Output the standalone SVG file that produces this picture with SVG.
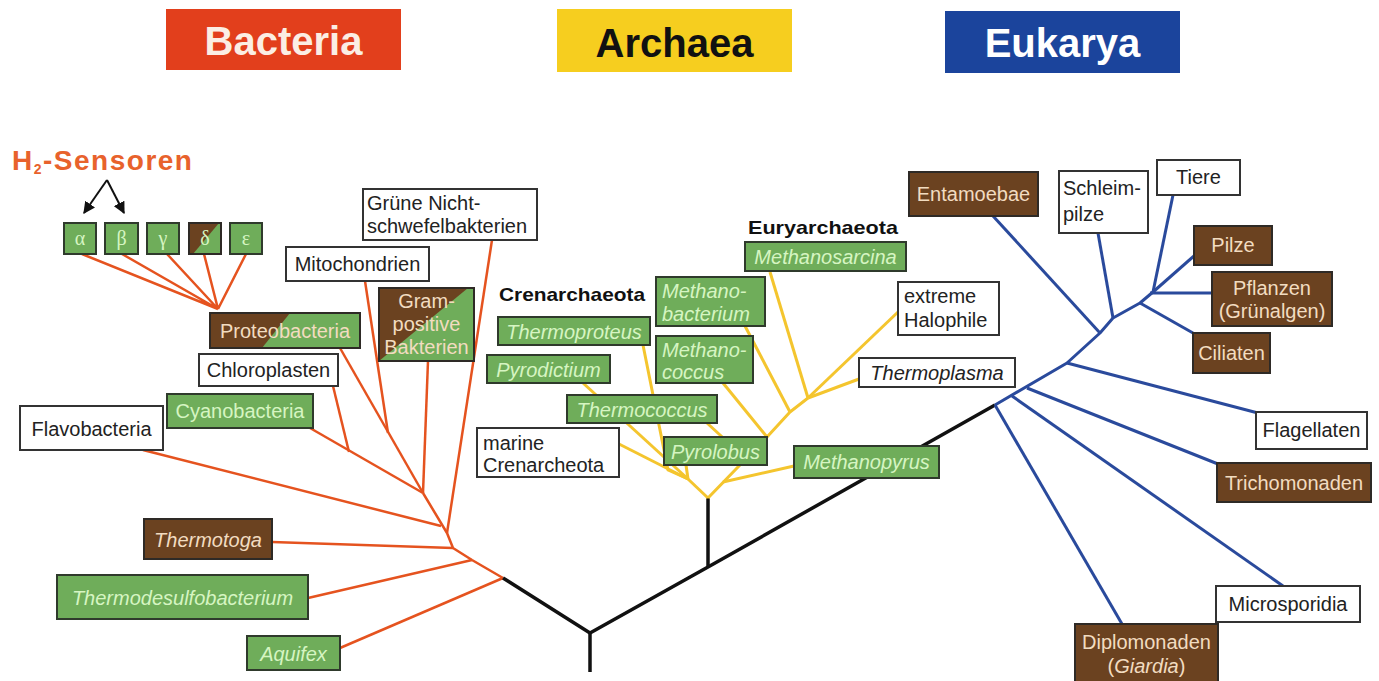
<svg xmlns="http://www.w3.org/2000/svg" width="1379" height="681" viewBox="0 0 1379 681">
<defs>
<style>
.t{font-family:"Liberation Sans",Arial,sans-serif;font-size:20px}
.c{text-anchor:middle}
.i{font-style:italic}
.gt{fill:#d6f5c2}
.bt{fill:#f2dcc0}
.wt{fill:#222}
.hd{font-family:"Liberation Sans",Arial,sans-serif;font-weight:bold;font-size:19px;fill:#111}
.gk{font-family:"Liberation Serif","Times New Roman",serif;font-size:20px;fill:#d6f5c2;text-anchor:middle}
.g{fill:#6fad5a;stroke:#2f3a2c;stroke-width:2}
.b{fill:#6b4220;stroke:#2e2a26;stroke-width:2}
.w{fill:#fff;stroke:#333;stroke-width:2}
.o{fill:none;stroke:#2e2a26;stroke-width:2}
.or{stroke:#e5531f;stroke-width:2.5;fill:none;stroke-linejoin:round}
.ye{stroke:#f4c52e;stroke-width:3;fill:none;stroke-linejoin:round}
.bl{stroke:#2a4a9c;stroke-width:3;fill:none;stroke-linejoin:round}
.bk{stroke:#111;stroke-width:3.5;fill:none;stroke-linejoin:round}
.ban{font-family:"Liberation Sans",Arial,sans-serif;font-weight:bold;font-size:40px;text-anchor:middle}
</style>
<marker id="ah" viewBox="0 0 10 10" refX="9" refY="5" markerWidth="6" markerHeight="6" orient="auto">
<path d="M0,0 L10,5 L0,10 z" fill="#111"/>
</marker>
</defs>
<rect width="1379" height="681" fill="#fff"/>

<g id="banner-bacteria"><rect x="166" y="9" width="235" height="61" fill="#e23f1c"/><text class="ban" x="283.5" y="55" fill="#fbeee4">Bacteria</text></g>
<g id="banner-archaea"><rect x="557" y="9" width="235" height="63" fill="#f6ce1f"/><text class="ban" x="674.5" y="57" fill="#111">Archaea</text></g>
<g id="banner-eukarya"><rect x="945" y="11" width="235" height="62" fill="#1b449c"/><text class="ban" x="1062.5" y="57" fill="#fff">Eukarya</text></g>

<g id="h2-sensoren">
<text x="12" y="170" font-family="Liberation Sans,Arial,sans-serif" font-weight="bold" font-size="28" fill="#e8622c" letter-spacing="1.5">H<tspan font-size="14" dy="4">2</tspan><tspan dy="-4">-Sensoren</tspan></text>
<path d="M107,180 L84,213" stroke="#111" stroke-width="2" fill="none" marker-end="url(#ah)"/>
<path d="M107,180 L124,213" stroke="#111" stroke-width="2" fill="none" marker-end="url(#ah)"/>
</g>

<g id="connectors">
<!-- bacteria -->
<path class="or" d="M82,254 L218,309 M122,254 L218,309 M167,254 L218,309 M204,254 L218,309 M246,254 L218,309"/>
<path class="or" d="M340,348 L423,493"/>
<path class="or" d="M365,281 L388,433"/>
<path class="or" d="M428,361 L423,493"/>
<path class="or" d="M333,386 L349,452"/>
<path class="or" d="M310,428 L423,493"/>
<path class="or" d="M492,240 L447,533"/>
<path class="or" d="M423,493 L447,533 L453,548 L472,560 L503,578"/>
<path class="or" d="M143,450 L441,526"/>
<path class="or" d="M272,542 L453,548"/>
<path class="or" d="M308,598 L472,560"/>
<path class="or" d="M340,648 L503,578"/>
<!-- root -->
<path class="bk" d="M503,578 L590,633 L708,567 L995,405"/>
<path class="bk" d="M590,633 L590,672"/>
<path class="bk" d="M708,567 L708,498"/>
<!-- archaea -->
<path class="ye" d="M708,498 L688,479"/>
<path class="ye" d="M688,479 L619,444"/>
<path class="ye" d="M688,479 L583,383"/>
<path class="ye" d="M688,479 L668,470 L643,345"/>
<path class="ye" d="M688,479 L686,465"/>
<path class="ye" d="M708,498 L767,437 L790,412 L808,398"/>
<path class="ye" d="M707,423 L745,458"/>
<path class="ye" d="M723,383 L767,437"/>
<path class="ye" d="M745,326 L790,412"/>
<path class="ye" d="M770,272 L808,398"/>
<path class="ye" d="M898,312 L808,398"/>
<path class="ye" d="M859,379 L808,398"/>
<path class="ye" d="M794,466 L723,482"/>
<!-- eukarya -->
<path class="bl" d="M995,405 L1067,363 L1100,333 L1113,318 L1140,303 L1153,292"/>
<path class="bl" d="M995,405 L1122,624"/>
<path class="bl" d="M1012,396 L1283,586"/>
<path class="bl" d="M1027,388 L1218,464"/>
<path class="bl" d="M1067,363 L1258,413"/>
<path class="bl" d="M993,216 L1100,333"/>
<path class="bl" d="M1098,233 L1113,318"/>
<path class="bl" d="M1193,333 L1140,303"/>
<path class="bl" d="M1173,195 L1153,292"/>
<path class="bl" d="M1195,255 L1153,292"/>
<path class="bl" d="M1212,293 L1150,293"/>
</g>

<!-- Greek boxes -->
<g id="alpha"><rect class="g" x="64" y="223" width="32" height="31"/><text class="gk" x="80" y="245">α</text></g>
<g id="beta"><rect class="g" x="105" y="223" width="33" height="31"/><text class="gk" x="121.5" y="245">β</text></g>
<g id="gamma"><rect class="g" x="147" y="223" width="32" height="31"/><text class="gk" x="163" y="245">γ</text></g>
<g id="delta"><rect x="189" y="223" width="32" height="31" fill="#6fad5a"/><polygon points="189,223 219,223 193,254 189,254" fill="#6b4220"/><rect class="o" x="189" y="223" width="32" height="31"/><text class="gk" x="205" y="245">δ</text></g>
<g id="epsilon"><rect class="g" x="230" y="223" width="32" height="31"/><text class="gk" x="246" y="245">ε</text></g>

<g id="proteobacteria"><rect x="210" y="313" width="150" height="35" fill="#6fad5a"/><polygon points="210,313 290,313 262,348 210,348" fill="#6b4220"/><rect class="o" x="210" y="313" width="150" height="35"/><text class="t c bt" x="285" y="338">Proteobacteria</text></g>
<g id="gruene"><rect class="w" x="363" y="189" width="174" height="51"/><text class="t wt" x="367" y="210">Grüne Nicht-</text><text class="t wt" x="367" y="233">schwefelbakterien</text></g>
<g id="mitochondrien"><rect class="w" x="286" y="247" width="143" height="34"/><text class="t c wt" x="357.5" y="271">Mitochondrien</text></g>
<g id="grampositive"><rect x="379" y="288" width="95" height="73" fill="#6fad5a"/><polygon points="379,288 468,288 379,361" fill="#6b4220"/><rect class="o" x="379" y="288" width="95" height="73"/><text class="t c bt" x="426.5" y="308">Gram-</text><text class="t c bt" x="426.5" y="331">positive</text><text class="t c bt" x="426.5" y="354">Bakterien</text></g>
<g id="chloroplasten"><rect class="w" x="199" y="354" width="139" height="32"/><text class="t c wt" x="268.5" y="377">Chloroplasten</text></g>
<g id="cyanobacteria"><rect class="g" x="167" y="394" width="146" height="34"/><text class="t c gt" x="240" y="418">Cyanobacteria</text></g>
<g id="flavobacteria"><rect class="w" x="20" y="406" width="143" height="44"/><text class="t c wt" x="91.5" y="436">Flavobacteria</text></g>
<g id="thermotoga"><rect class="b" x="144" y="519" width="128" height="40"/><text class="t c i bt" x="208" y="547">Thermotoga</text></g>
<g id="thermodesulfobacterium"><rect class="g" x="57" y="575" width="251" height="44"/><text class="t c i gt" x="182.5" y="605">Thermodesulfobacterium</text></g>
<g id="aquifex"><rect class="g" x="247" y="636" width="93" height="34"/><text class="t c i gt" x="293.5" y="661">Aquifex</text></g>

<!-- Archaea -->
<g id="crenarchaeota-label"><text class="hd" x="499" y="301" textLength="146" lengthAdjust="spacingAndGlyphs">Crenarchaeota</text></g>
<g id="thermoproteus"><rect class="g" x="498" y="317" width="152" height="28"/><text class="t c i gt" x="574" y="339">Thermoproteus</text></g>
<g id="pyrodictium"><rect class="g" x="487" y="355" width="123" height="28"/><text class="t c i gt" x="548.5" y="377">Pyrodictium</text></g>
<g id="thermococcus"><rect class="g" x="567" y="395" width="150" height="28"/><text class="t c i gt" x="642" y="417">Thermococcus</text></g>
<g id="marine-crenarcheota"><rect class="w" x="477" y="428" width="142" height="49"/><text class="t wt" x="483" y="450">marine</text><text class="t wt" x="483" y="472">Crenarcheota</text></g>
<g id="pyrolobus"><rect class="g" x="664" y="437" width="103" height="28"/><text class="t c i gt" x="715.5" y="459">Pyrolobus</text></g>
<g id="methanobacterium"><rect class="g" x="656" y="277" width="109" height="49"/><text class="t i gt" x="662" y="298">Methano-</text><text class="t i gt" x="662" y="321">bacterium</text></g>
<g id="methanococcus"><rect class="g" x="656" y="336" width="97" height="47"/><text class="t i gt" x="662" y="357">Methano-</text><text class="t i gt" x="662" y="379">coccus</text></g>
<g id="euryarchaeota-label"><text class="hd" x="748" y="234" textLength="150" lengthAdjust="spacingAndGlyphs">Euryarchaeota</text></g>
<g id="methanosarcina"><rect class="g" x="745" y="242" width="161" height="29"/><text class="t c i gt" x="825.5" y="264">Methanosarcina</text></g>
<g id="extreme-halophile"><rect class="w" x="898" y="282" width="101" height="53"/><text class="t wt" x="904" y="303">extreme</text><text class="t wt" x="904" y="327">Halophile</text></g>
<g id="thermoplasma"><rect class="w" x="859" y="358" width="156" height="29"/><text class="t c i wt" x="937" y="380">Thermoplasma</text></g>
<g id="methanopyrus"><rect class="g" x="794" y="446" width="145" height="32"/><text class="t c i gt" x="866.5" y="469">Methanopyrus</text></g>

<!-- Eukarya -->
<g id="entamoebae"><rect class="b" x="909" y="172" width="129" height="44"/><text class="t c bt" x="973.5" y="201">Entamoebae</text></g>
<g id="schleimpilze"><rect class="w" x="1059" y="171" width="89" height="62"/><text class="t wt" x="1063" y="195">Schleim-</text><text class="t wt" x="1063" y="221">pilze</text></g>
<g id="tiere"><rect class="w" x="1157" y="160" width="83" height="35"/><text class="t c wt" x="1198.5" y="184">Tiere</text></g>
<g id="pilze"><rect class="b" x="1194" y="226" width="78" height="39"/><text class="t c bt" x="1233" y="252">Pilze</text></g>
<g id="pflanzen"><rect class="b" x="1212" y="272" width="120" height="54"/><text class="t c bt" x="1272" y="295">Pflanzen</text><text class="t c bt" x="1272" y="318">(Grünalgen)</text></g>
<g id="ciliaten"><rect class="b" x="1193" y="333" width="77" height="40"/><text class="t c bt" x="1231.5" y="360">Ciliaten</text></g>
<g id="flagellaten"><rect class="w" x="1256" y="412" width="111" height="37"/><text class="t c wt" x="1311.5" y="437">Flagellaten</text></g>
<g id="trichomonaden"><rect class="b" x="1217" y="463" width="154" height="39"/><text class="t c bt" x="1294" y="490">Trichomonaden</text></g>
<g id="microsporidia"><rect class="w" x="1216" y="586" width="144" height="36"/><text class="t c wt" x="1288" y="611">Microsporidia</text></g>
<g id="diplomonaden"><rect class="b" x="1075" y="624" width="143" height="60"/><text class="t c bt" x="1146.5" y="649">Diplomonaden</text><text class="t c bt" x="1146.5" y="673">(<tspan class="i">Giardia</tspan>)</text></g>
</svg>
